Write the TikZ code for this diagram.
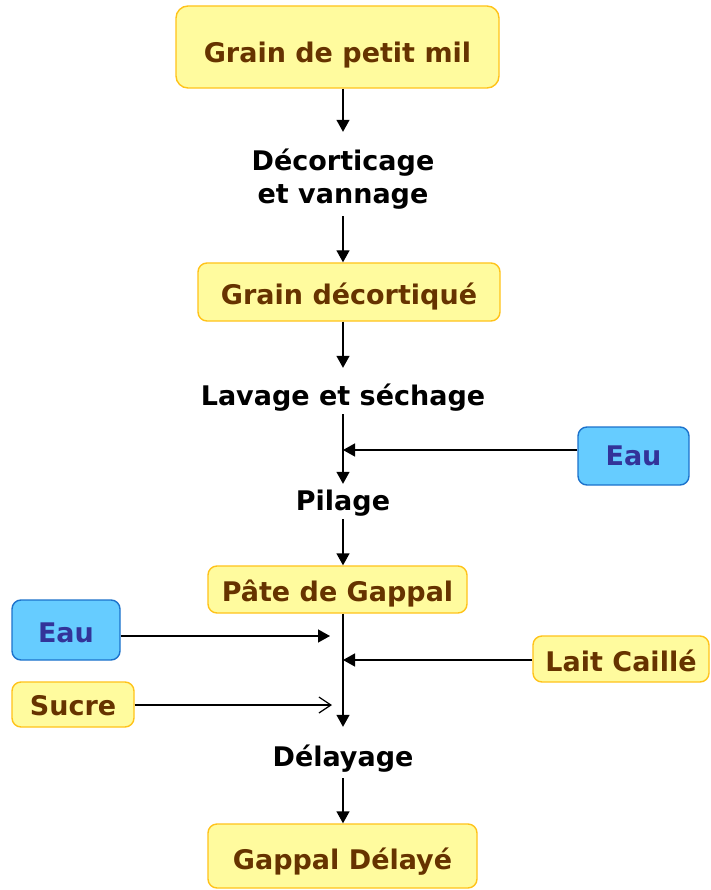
\documentclass[tikz,border=0pt]{standalone}
\usepackage{fontspec}
\setmainfont{DejaVu Sans}
\usetikzlibrary{arrows.meta}

\definecolor{boxfill}{HTML}{FFFB9E}
\definecolor{boxline}{HTML}{FFC31A}
\definecolor{boxtext}{HTML}{663300}
\definecolor{waterfill}{HTML}{66CCFF}
\definecolor{waterline}{HTML}{1C72CC}
\definecolor{watertext}{HTML}{333399}

\begin{document}
\begin{tikzpicture}[x=1pt,y=-1pt,
  every node/.style={font=\fontsize{27pt}{33pt}\selectfont\bfseries},
  product/.style={draw=boxline, fill=boxfill, text=boxtext, line width=1.4pt,
    rounded corners=9pt, inner sep=0pt, text height=24pt, text depth=0pt},
  water/.style={product, draw=waterline, fill=waterfill, text=watertext},
  operation/.style={inner sep=0pt, text height=20pt, text depth=0pt, anchor=base},
  arr/.style={line width=1.4pt, -{Triangle[length=12pt,width=13pt]}},
  openarr/.style={line width=1.4pt, -{Straight Barb[length=12pt,width=16pt,line width=1.2pt]}}
]
\fill[white] (0,0) rectangle (710,890);
\useasboundingbox (0,0) rectangle (710,890);

% products
\node[product, rounded corners=12pt, minimum width=323pt, minimum height=82pt, text height=31pt]
  (mil) at (337.5,47) {Grain de petit mil};
\node[product, minimum width=302pt, minimum height=58pt] (gd) at (349,292) {Grain décortiqué};
\node[product, minimum width=259pt, minimum height=47pt] (pate) at (337.5,589.5) {Pâte de Gappal};
\node[product, minimum width=269pt, minimum height=64pt, text height=26pt] (gdel) at (342.5,856) {Gappal Délayé};
\node[water, minimum width=111pt, minimum height=58pt, text height=18pt] (eauR) at (633.5,456) {Eau};
\node[water, minimum width=108pt, minimum height=60pt] (eauL) at (66,630) {Eau};
\node[product, minimum width=176pt, minimum height=46pt] (lait) at (621,659) {Lait Caillé};
\node[product, minimum width=122pt, minimum height=45pt, text height=21pt] (sucre) at (73,704.5) {Sucre};

% operations
\node[operation, text depth=33pt] (dec) at (343,171)
  {\vtop{\baselineskip=33pt\halign{\hfil#\hfil\cr Décorticage\cr et vannage\cr}}};
\node[operation] (lav) at (343,405) {Lavage et séchage};
\node[operation] (pil) at (343,510) {Pilage};
\node[operation] (del) at (343,766) {Délayage};

% inputs joining the main line
\coordinate (inR) at (343,450);
\coordinate (inEau) at (330,636);
\coordinate (inLait) at (343,660);
\coordinate (inSucre) at (332,705);

% main line
\draw[arr, shorten >=19pt] (mil.south -| dec.base) -- (dec.north);
\draw[arr, shorten <=12pt] (dec.south) -- (gd.north -| dec.south);
\draw[arr, shorten >=17pt] (gd.south -| lav.base) -- (lav.north);
\draw[arr, shorten <=9pt, shorten >=6pt] (lav.south) -- (pil.north);
\draw[arr, shorten <=9pt] (pil.south) -- (pate.north -| pil.south);
\draw[arr, shorten >=19pt] (pate.south -| del.base) -- (del.north);
\draw[arr, shorten <=12pt] (del.south) -- (gdel.north -| del.south);

% side inputs
\draw[arr] (eauR.west |- inR) -- (inR);
\draw[arr] (eauL.east |- inEau) -- (inEau);
\draw[arr] (lait.west |- inLait) -- (inLait);
\draw[openarr] (sucre.east |- inSucre) -- (inSucre);
\end{tikzpicture}
\end{document}
